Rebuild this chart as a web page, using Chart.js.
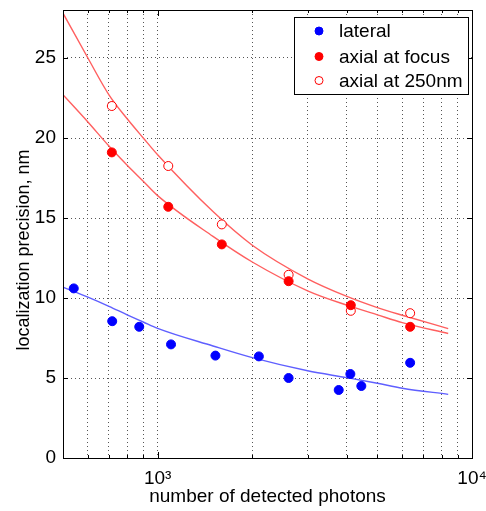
<!DOCTYPE html>
<html>
<head>
<meta charset="utf-8">
<script src="https://cdn.jsdelivr.net/npm/chart.js@4"></script>
<style>
  body { margin: 0; background: #fff; }
  canvas { display: block; }
</style>
</head>
<body>
<canvas id="chart" width="486" height="511"></canvas>
<script>
// measured points
const photonsLateral = [541, 717, 874, 1103, 1527, 2099, 2610, 3767, 4103, 4446, 6357];
const precLateral = [10.6, 8.55, 8.2, 7.1, 6.4, 6.35, 5.0, 4.25, 5.25, 4.5, 5.95];

const photonsAxial = [715, 1081, 1600, 2610, 4116, 6357];
const precFocus = [19.1, 15.7, 13.35, 11.05, 9.55, 8.2];
const prec250 = [22.0, 18.25, 14.6, 11.45, 9.2, 9.05];

// fitted curves
const fitPhotons = [500, 600, 700, 800, 900, 1000, 1500, 2000, 3000, 4000, 5000, 6000, 8400];
const fitLateral = [10.68, 10.05, 9.48, 8.95, 8.5, 8.1, 7.0, 6.27, 5.45, 5.02, 4.67, 4.36, 3.98];
const fitFocus = [22.7, 21.0, 19.5, 18.3, 17.3, 16.4, 13.85, 12.25, 10.45, 9.55, 8.95, 8.46, 7.78];
const fit250 = [27.8, 25.0, 22.7, 21.2, 20.0, 18.95, 15.4, 13.3, 11.2, 10.1, 9.4, 8.92, 8.09];

const yTicks = [0, 5, 10, 15, 20, 25];
const xTickLabels = { 1000: '10³', 10000: '10⁴' };
const legendLabels = ['lateral', 'axial at focus', 'axial at 250nm'];
const yTitle = 'localization precision, nm';

const FONT = "'Liberation Sans', Arial, sans-serif";

function pts(xs, ys) {
    return xs.map((x, i) => ({ x: x, y: ys[i] }));
}

function fitLine(xs, ys, color) {
    return {
        type: 'line',
        data: pts(xs, ys),
        borderColor: color,
        borderWidth: 1.4,
        pointRadius: 0,
        cubicInterpolationMode: 'monotone',
        fill: false,
        inLegend: false,
        order: 1
    };
}

// legend box, y title, axis frame with inward ticks
const frame = {
    id: 'frame',
    afterDraw(chart) {
        const ctx = chart.ctx;
        const a = chart.chartArea;
        const xs = chart.scales.x, ys = chart.scales.y;
        ctx.save();
        ctx.strokeStyle = '#000';
        ctx.lineWidth = 1;
        ctx.beginPath();
        yTicks.forEach(v => {
            const p = Math.round(ys.getPixelForValue(v)) + 0.5;
            ctx.moveTo(a.left, p); ctx.lineTo(a.left + 5, p);
            ctx.moveTo(a.right, p); ctx.lineTo(a.right - 5, p);
        });
        xs.ticks.forEach(t => {
            const p = Math.round(xs.getPixelForValue(t.value)) + 0.5;
            const len = xTickLabels[t.value] ? 6 : 3;
            ctx.moveTo(p, a.bottom); ctx.lineTo(p, a.bottom - len);
            ctx.moveTo(p, a.top); ctx.lineTo(p, a.top + len);
        });
        ctx.stroke();
        ctx.strokeRect(Math.round(a.left) + 0.5, Math.round(a.top) + 0.5,
            Math.round(a.right - a.left), Math.round(a.bottom - a.top));

        // y axis title
        ctx.save();
        ctx.translate(24, 250);
        ctx.rotate(-Math.PI / 2);
        ctx.font = '18px ' + FONT;
        ctx.fillStyle = '#000';
        ctx.textAlign = 'center';
        ctx.textBaseline = 'middle';
        ctx.fillText(yTitle, 0, 0);
        ctx.restore();

        // legend
        const bx = 294.5, by = 17.5, bw = 174, bh = 77;
        ctx.fillStyle = '#fff';
        ctx.fillRect(bx, by, bw, bh);
        ctx.strokeRect(bx, by, bw, bh);
        ctx.font = '19px ' + FONT;
        ctx.textBaseline = 'middle';
        const rows = [31, 56.5, 80.5];
        let k = 0;
        chart.data.datasets.forEach(ds => {
            if (ds.inLegend === false) return;
            const y = rows[k];
            ctx.beginPath();
            ctx.arc(319, y, 4, 0, Math.PI * 2);
            ctx.fillStyle = ds.backgroundColor;
            ctx.fill();
            ctx.strokeStyle = ds.borderColor;
            ctx.lineWidth = 1;
            ctx.stroke();
            ctx.fillStyle = '#000';
            ctx.fillText(legendLabels[k], 339, y + 1);
            k++;
        });
        ctx.restore();
    }
};

new Chart(document.getElementById('chart').getContext('2d'), {
    data: {
        datasets: [
            {
                type: 'scatter',
                data: pts(photonsLateral, precLateral),
                backgroundColor: '#0000ff',
                borderColor: '#0000ff',
                pointRadius: 4.5,
                order: 0
            },
            {
                type: 'scatter',
                data: pts(photonsAxial, precFocus),
                backgroundColor: '#ff0000',
                borderColor: '#ff0000',
                pointRadius: 4.5,
                order: 0
            },
            {
                type: 'scatter',
                data: pts(photonsAxial, prec250),
                backgroundColor: '#ffffff',
                borderColor: '#ff0000',
                borderWidth: 1,
                pointRadius: 4.5,
                order: 0
            },
            fitLine(fitPhotons, fitLateral, 'rgb(95,95,255)'),
            fitLine(fitPhotons, fitFocus, 'rgb(255,95,95)'),
            fitLine(fitPhotons, fit250, 'rgb(255,95,95)')
        ]
    },
    options: {
        responsive: false,
        animation: false,
        layout: { padding: { left: 0, right: 14, top: 10, bottom: 0 } },
        plugins: {
            legend: { display: false },
            tooltip: { enabled: false }
        },
        scales: {
            x: {
                type: 'logarithmic',
                min: 500,
                max: 10000,
                afterBuildTicks: scale => {
                    scale.ticks = scale.ticks.filter(t => {
                        const m = t.value / Math.pow(10, Math.floor(Math.log10(t.value) + 1e-9));
                        return Math.abs(m - Math.round(m)) < 1e-6;
                    });
                },
                afterFit: scale => {
                    scale.height = 53;
                    scale.paddingLeft = 0;
                    scale.paddingRight = 0;
                },
                ticks: {
                    autoSkip: false,
                    maxRotation: 0,
                    padding: 9,
                    color: '#000',
                    font: { family: FONT, size: 19 },
                    callback: v => xTickLabels[v] || ''
                },
                grid: { color: '#555', lineWidth: 1, drawTicks: false },
                border: { display: false, dash: [1, 3] },
                title: {
                    display: true,
                    text: 'number of detected photons',
                    color: '#000',
                    font: { family: FONT, size: 19 },
                    padding: { top: 0, bottom: 3 }
                }
            },
            y: {
                type: 'linear',
                min: 0,
                max: 28,
                afterBuildTicks: scale => {
                    scale.ticks = yTicks.map(v => ({ value: v }));
                },
                afterFit: scale => {
                    scale.width = 63;
                    scale.paddingTop = 0;
                    scale.paddingBottom = 0;
                },
                ticks: {
                    padding: 7,
                    color: '#000',
                    font: { family: FONT, size: 19 }
                },
                grid: { color: '#555', lineWidth: 1, drawTicks: false },
                border: { display: false, dash: [1, 3] },
                title: { display: false }
            }
        }
    },
    plugins: [frame]
});
</script>
</body>
</html>
